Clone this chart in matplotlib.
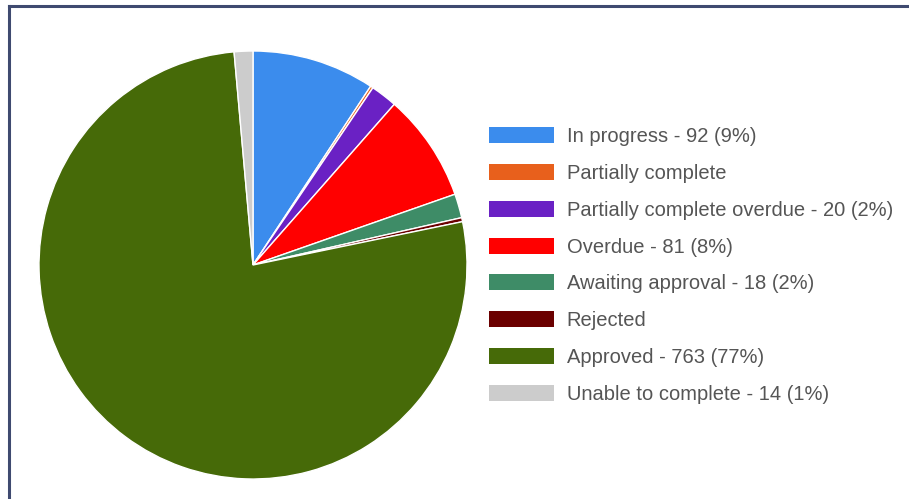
import matplotlib.pyplot as plt
from matplotlib.lines import Line2D

labels = [
    "In progress - 92 (9%)",
    "Partially complete",
    "Partially complete overdue - 20 (2%)",
    "Overdue - 81 (8%)",
    "Awaiting approval - 18 (2%)",
    "Rejected",
    "Approved - 763 (77%)",
    "Unable to complete - 14 (1%)",
]
values = [92, 2, 20, 81, 18, 3, 763, 14]
colors = ["#3b8ced", "#e8601c", "#6a21c4", "#ff0000", "#3e8c67", "#6b0000", "#466a08", "#cccccc"]

plt.rcParams["font.family"] = ["Liberation Sans", "DejaVu Sans"]

W, H = 909, 499
fig = plt.figure(figsize=(W / 100, H / 100), dpi=100)
fig.patch.set_facecolor("white")

# pie centre and radius in pixels
cx, cy, r = 253, 265, 214
ax = fig.add_axes([(cx - r) / W, (H - cy - r) / H, 2 * r / W, 2 * r / H])
wedges, _ = ax.pie(values, colors=colors, startangle=90, counterclock=False,
                   wedgeprops=dict(edgecolor="white", linewidth=1))
ax.set_xlim(-1, 1)
ax.set_ylim(-1, 1)
ax.set_aspect("equal")

leg = fig.legend(wedges, labels, loc="upper left",
                 bbox_to_anchor=(481 / W, 1 - 119 / H),
                 frameon=False, fontsize=14.5, handlelength=3.2, handleheight=0.85,
                 labelspacing=0.885, handletextpad=0.65, borderaxespad=0)
for t in leg.get_texts():
    t.set_color("#555555")
for h in leg.legend_handles:
    h.set_edgecolor("none")

# dark frame on top and left
fig.add_artist(Line2D([9 / W, 1], [1 - 5.5 / H, 1 - 5.5 / H], color="#3f4a70", lw=2.2,
                      transform=fig.transFigure))
fig.add_artist(Line2D([9 / W, 9 / W], [0, 1 - 5.5 / H], color="#3f4a70", lw=2.2,
                      transform=fig.transFigure))

fig.savefig("out.png", dpi=100)
